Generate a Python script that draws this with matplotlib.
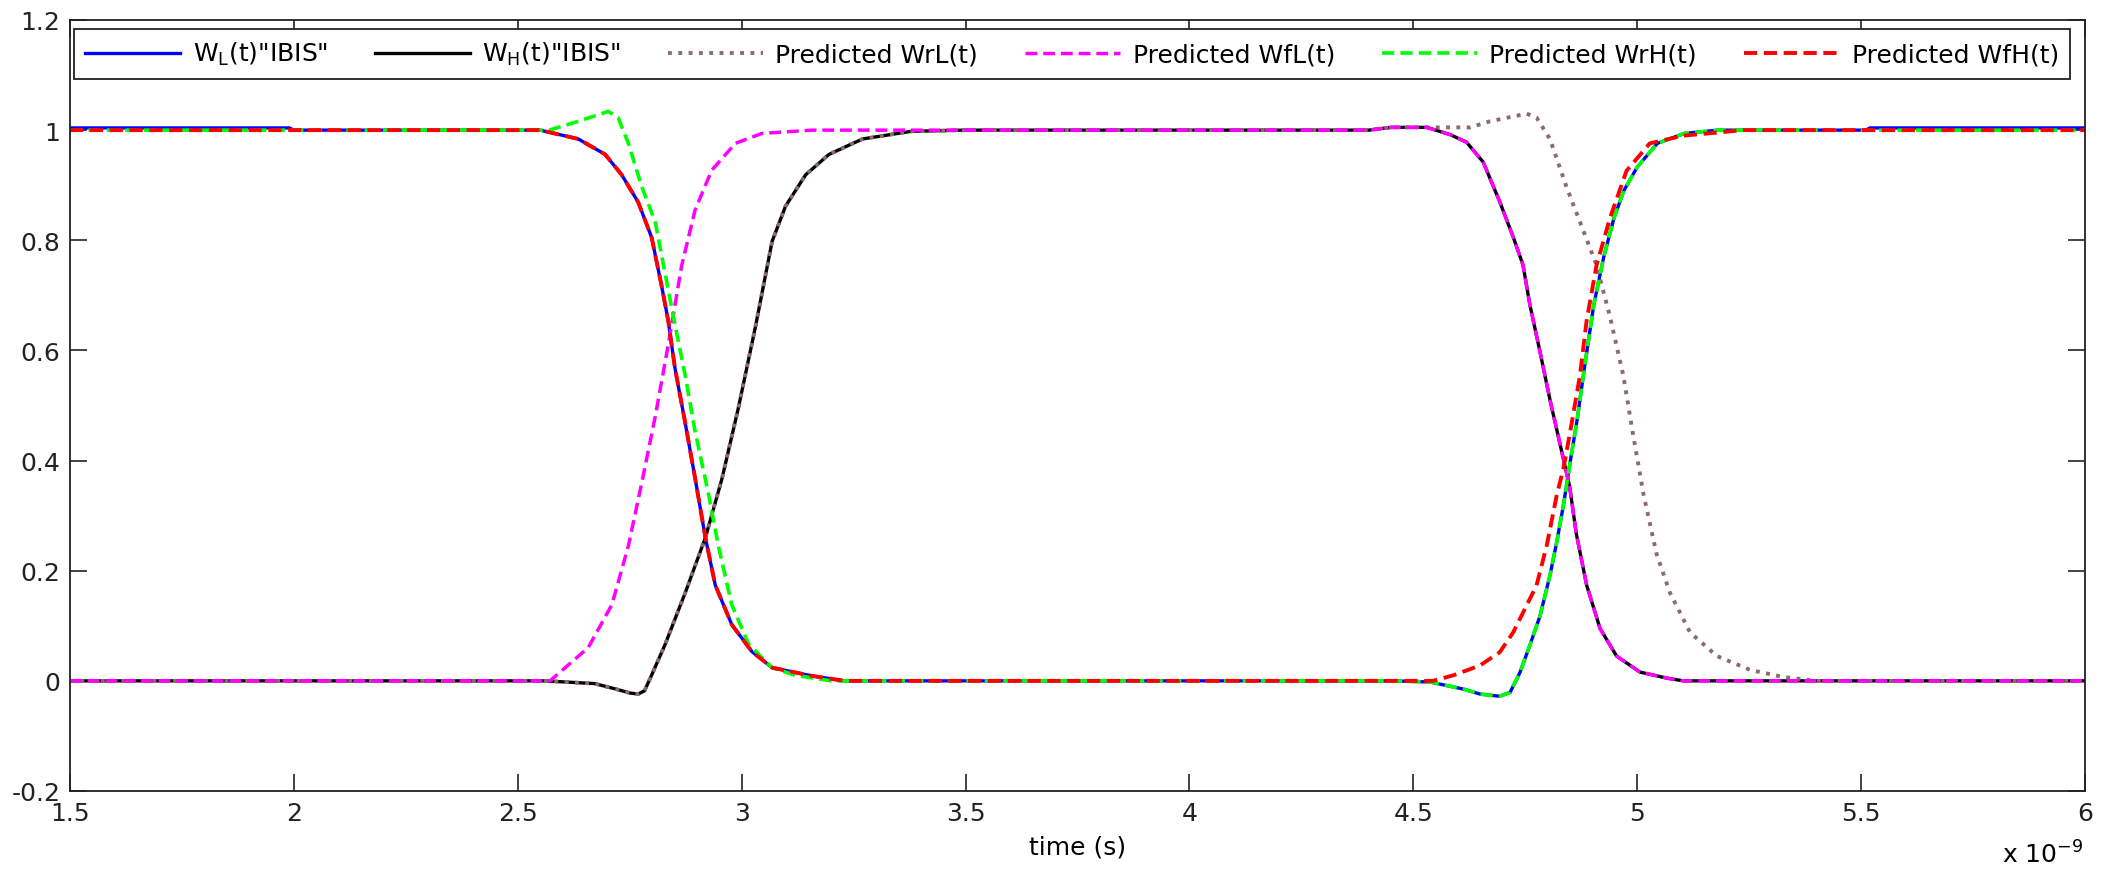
"""
IBIS waveform check: measured IBIS curves vs predicted rising / falling waveforms.
Values are read off the reference plot (time in ns, normalised amplitude).
"""
import matplotlib
matplotlib.use("Agg")
import matplotlib.pyplot as plt

plt.rcParams["font.family"] = ["DejaVu Sans"]
plt.rcParams["axes.unicode_minus"] = False  # plain hyphen like "-0.2"
plt.rcParams["mathtext.default"] = "regular"

FONT_SIZE = 18

# --- data (time in 1e-9 s) ---
# W_L(t) "IBIS" : falls at ~2.85 ns, rises at ~4.87 ns
T_WL = [1.5, 1.99, 2.0, 2.55, 2.635, 2.695, 2.732, 2.769, 2.799, 2.821, 2.836, 2.851,
        2.874, 2.896, 2.919, 2.941, 2.978, 3.023, 3.068, 3.157, 3.23,
        4.45, 4.537, 4.612, 4.649, 4.693, 4.716, 4.738, 4.760, 4.783, 4.805, 4.820,
        4.835, 4.850, 4.866, 4.882, 4.903, 4.925, 4.948, 4.970, 5.000, 5.045, 5.105,
        5.18, 5.51, 5.52, 6.0]
V_WL = [1.004, 1.004, 1.0, 1.0, 0.984, 0.956, 0.919, 0.869, 0.805, 0.718, 0.654, 0.568,
        0.468, 0.368, 0.26, 0.174, 0.102, 0.053, 0.024, 0.009, 0.0,
        0.0, -0.002, -0.015, -0.024, -0.028, -0.021, 0.015, 0.064, 0.118, 0.191, 0.251,
        0.318, 0.396, 0.475, 0.568, 0.683, 0.769, 0.84, 0.89, 0.933, 0.976, 0.994,
        1.0, 1.0, 1.004, 1.004]

# W_H(t) "IBIS" : rises with undershoot at ~2.77 ns, falls at ~4.8 ns
T_WH = [1.5, 2.56, 2.672, 2.724, 2.750, 2.769, 2.783, 2.796, 2.829, 2.874, 2.919, 2.956,
        2.993, 3.030, 3.068, 3.098, 3.143, 3.195, 3.27, 3.38, 3.5,
        4.40, 4.45, 4.53, 4.582, 4.619, 4.656, 4.693, 4.723, 4.745, 4.760, 4.783, 4.805,
        4.827, 4.849, 4.864, 4.887, 4.917, 4.954, 5.006, 5.066, 5.103, 6.0]
V_WH = [0.0, 0.0, -0.005, -0.016, -0.022, -0.024, -0.018, 0.005, 0.066, 0.16, 0.26, 0.367,
        0.497, 0.64, 0.798, 0.862, 0.919, 0.956, 0.984, 0.998, 1.0,
        1.0, 1.005, 1.005, 0.992, 0.978, 0.942, 0.870, 0.806, 0.755, 0.684, 0.597, 0.511,
        0.432, 0.353, 0.267, 0.174, 0.095, 0.045, 0.016, 0.005, 0.0, 0.0]

# Predicted WrL(t) : same rise as W_H, overshoot then late fall
T_WRL = [1.5, 2.56, 2.672, 2.724, 2.750, 2.769, 2.783, 2.796, 2.829, 2.874, 2.919, 2.956,
         2.993, 3.030, 3.068, 3.098, 3.143, 3.195, 3.27, 3.38, 3.5,
         4.40, 4.45, 4.582, 4.627, 4.671, 4.753, 4.775, 4.805, 4.842, 4.879, 4.909, 4.939,
         4.969, 4.991, 5.014, 5.043, 5.073, 5.118, 5.178, 5.252, 5.326, 5.40, 6.0]
V_WRL = [0.0, 0.0, -0.005, -0.016, -0.022, -0.024, -0.018, 0.005, 0.066, 0.16, 0.26, 0.367,
         0.497, 0.64, 0.798, 0.862, 0.919, 0.956, 0.984, 0.998, 1.0,
         1.0, 1.005, 1.005, 1.005, 1.016, 1.030, 1.023, 0.984, 0.897, 0.819, 0.755, 0.662,
         0.554, 0.446, 0.339, 0.231, 0.160, 0.088, 0.045, 0.020, 0.007, 0.0, 0.0]

# Predicted WfL(t) : early rise, same fall as W_H
T_WFL = [1.5, 2.572, 2.657, 2.710, 2.747, 2.777, 2.807, 2.836, 2.866, 2.896, 2.933, 2.986,
         3.045, 3.157,
         4.40, 4.45, 4.53, 4.582, 4.619, 4.656, 4.693, 4.723, 4.745, 4.760, 4.783, 4.805,
         4.827, 4.849, 4.864, 4.887, 4.917, 4.954, 5.006, 5.066, 5.103, 6.0]
V_WFL = [0.0, 0.0, 0.06, 0.138, 0.245, 0.36, 0.48, 0.61, 0.754, 0.855, 0.927, 0.976,
         0.994, 1.0,
         1.0, 1.005, 1.005, 0.992, 0.978, 0.942, 0.870, 0.806, 0.755, 0.684, 0.597, 0.511,
         0.432, 0.353, 0.267, 0.174, 0.095, 0.045, 0.016, 0.005, 0.0, 0.0]

# Predicted WrH(t) : overshoot then later fall, same rise as W_L
T_WRH = [1.5, 2.57, 2.635, 2.68, 2.702, 2.724, 2.747, 2.777, 2.807, 2.829, 2.851, 2.874,
         2.896, 2.926, 2.948, 2.978, 3.016, 3.068, 3.12, 3.2,
         4.45, 4.537, 4.612, 4.649, 4.693, 4.716, 4.738, 4.760, 4.783, 4.805, 4.820,
         4.835, 4.850, 4.866, 4.882, 4.903, 4.925, 4.948, 4.970, 5.000, 5.045, 5.105,
         5.18, 6.0]
V_WRH = [1.0, 1.0, 1.016, 1.028, 1.034, 1.023, 0.976, 0.897, 0.833, 0.74, 0.647, 0.554,
         0.453, 0.339, 0.245, 0.138, 0.066, 0.024, 0.01, 0.0,
         0.0, -0.002, -0.015, -0.024, -0.028, -0.021, 0.015, 0.064, 0.118, 0.191, 0.251,
         0.318, 0.396, 0.475, 0.568, 0.683, 0.769, 0.84, 0.89, 0.933, 0.976, 0.994,
         1.0, 1.0]

# Predicted WfH(t) : same fall as W_L, earlier rise
T_WFH = [1.5, 2.55, 2.635, 2.695, 2.732, 2.769, 2.799, 2.821, 2.836, 2.851, 2.874, 2.896,
         2.919, 2.941, 2.978, 3.023, 3.068, 3.157, 3.23,
         4.425, 4.544, 4.589, 4.649, 4.693, 4.723, 4.753, 4.775, 4.798, 4.820, 4.835,
         4.850, 4.872, 4.887, 4.909, 4.939, 4.976, 5.028, 5.103, 5.237, 6.0]
V_WFH = [1.0, 1.0, 0.984, 0.956, 0.919, 0.869, 0.805, 0.718, 0.654, 0.568, 0.468, 0.368,
         0.26, 0.174, 0.102, 0.053, 0.024, 0.009, 0.0,
         0.0, 0.0, 0.010, 0.028, 0.052, 0.088, 0.137, 0.173, 0.246, 0.336, 0.385,
         0.451, 0.554, 0.654, 0.754, 0.84, 0.926, 0.976, 0.99, 1.0, 1.0]

LABELS = [r'W$_{L}$(t)"IBIS"', r'W$_{H}$(t)"IBIS"', "Predicted WrL(t)",
          "Predicted WfL(t)", "Predicted WrH(t)", "Predicted WfH(t)"]

X_TICKS = [1.5, 2, 2.5, 3, 3.5, 4, 4.5, 5, 5.5, 6]
X_TICK_LABELS = ["1.5", "2", "2.5", "3", "3.5", "4", "4.5", "5", "5.5", "6"]
Y_TICKS = [-0.2, 0, 0.2, 0.4, 0.6, 0.8, 1.0, 1.2]
Y_TICK_LABELS = ["-0.2", "0", "0.2", "0.4", "0.6", "0.8", "1", "1.2"]

# canvas size in pixels (dpi 100) and axes box
FIG_W, FIG_H = 2110, 870
AX_LEFT, AX_RIGHT, AX_TOP, AX_BOTTOM = 70, 2085, 21, 792


def draw_curves(ax):
    """Draw the six waveforms in legend order."""
    dash = (3.4, 1.7)
    ax.plot(T_WL, V_WL, color="#0000ff", lw=2.4, label=LABELS[0])
    ax.plot(T_WH, V_WH, color="#000000", lw=2.4, label=LABELS[1])
    ax.plot(T_WRL, V_WRL, color="#8b6b6b", lw=2.8, linestyle=":", label=LABELS[2])
    ax.plot(T_WFL, V_WFL, color="#ff00ff", lw=2.5, dashes=dash, label=LABELS[3])
    ax.plot(T_WRH, V_WRH, color="#00ff00", lw=2.6, dashes=dash, label=LABELS[4])
    ax.plot(T_WFH, V_WFH, color="#ff0000", lw=2.8, dashes=dash, label=LABELS[5])


def style_axes(ax):
    ax.set_xlim(1.5, 6)
    ax.set_ylim(-0.2, 1.2)
    ax.set_xticks(X_TICKS)
    ax.set_xticklabels(X_TICK_LABELS)
    ax.set_yticks(Y_TICKS)
    ax.set_yticklabels(Y_TICK_LABELS)
    ax.tick_params(direction="in", length=12, width=1.2, top=True, right=True,
                   labelsize=FONT_SIZE, pad=7, colors="#222222")
    for spine in ax.spines.values():
        spine.set_linewidth(1.3)
        spine.set_color("#222222")
    ax.set_xlabel("time (s)", fontsize=FONT_SIZE, labelpad=7)


def add_legend(ax):
    width = AX_RIGHT - AX_LEFT
    height = AX_BOTTOM - AX_TOP
    x0 = (74 - AX_LEFT) / width
    x1 = (2070 - AX_LEFT) / width
    y_top = (AX_BOTTOM - 30) / height
    leg = ax.legend(loc="upper left", bbox_to_anchor=(x0, y_top, x1 - x0, 0.0),
                    mode="expand", ncol=6, fontsize=FONT_SIZE, handlelength=3.8,
                    handletextpad=0.5, borderpad=0.45, borderaxespad=0.0,
                    fancybox=False, framealpha=1.0, edgecolor="#222222")
    leg.get_frame().set_linewidth(1.3)


def main() -> None:
    fig = plt.figure(figsize=(FIG_W / 100, FIG_H / 100), dpi=100)
    ax = fig.add_axes([AX_LEFT / FIG_W, 1 - AX_BOTTOM / FIG_H,
                       (AX_RIGHT - AX_LEFT) / FIG_W, (AX_BOTTOM - AX_TOP) / FIG_H])

    draw_curves(ax)
    style_axes(ax)
    add_legend(ax)

    # MATLAB style exponent under the right end of the x axis
    fig.text(2083 / FIG_W, 1 - 864 / FIG_H, "x 10$^{-9}$", ha="right", va="baseline",
             fontsize=FONT_SIZE)

    fig.savefig("out.png", dpi=100)
    plt.close(fig)


if __name__ == "__main__":
    main()
